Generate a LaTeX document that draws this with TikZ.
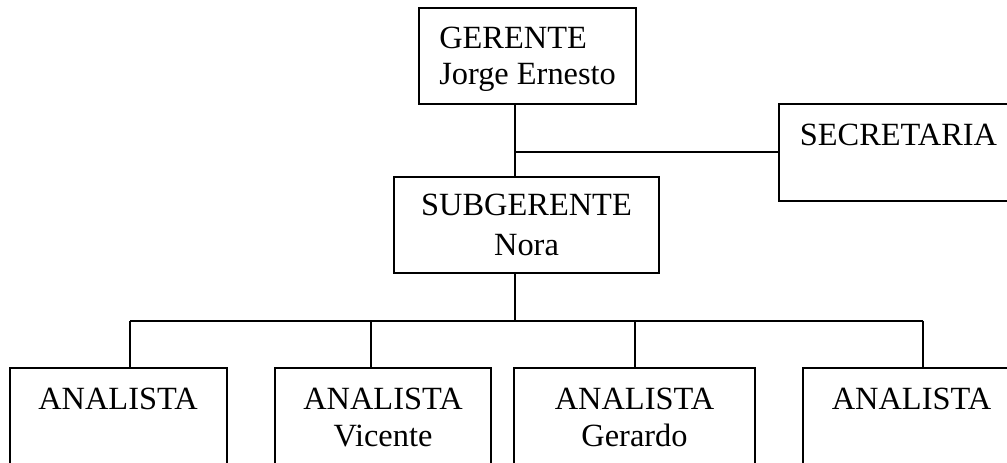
\documentclass[tikz,border=0pt]{standalone}
\usepackage{fontspec}
\setmainfont{Liberation Serif}
\usetikzlibrary{fit}
\tikzset{
  box/.style={draw=black, line width=1.4pt, inner sep=0pt, fill=none},
  txt/.style={inner sep=0pt, anchor=base, font=\fontsize{24.3}{29}\selectfont},
  txtl/.style={txt, anchor=base west},
  conn/.style={draw=black, line width=1.4pt}
}
\begin{document}
\begin{tikzpicture}[x=0.75pt, y=-0.75pt]
\useasboundingbox (0,0) rectangle (1007,462);
\clip (0,0) rectangle (1007,462);
\fill[white] (0,0) rectangle (1007,462);
% boxes
\node[box, fit={(419,8) (636,104)}] (ger) {};
\node[box, fit={(779,104) (1018,200.7)}] (sec) {};
\node[box, fit={(394,176.7) (659,272.7)}] (sub) {};
\node[box, fit={(10,368.3) (226.7,480)}] (a1) {};
\node[box, fit={(275,368.3) (491,480)}] (a2) {};
\node[box, fit={(514,368.3) (755,480)}] (a3) {};
\node[box, fit={(803,368.3) (1020,480)}] (a4) {};
% texts
\node[txtl] (gert) at (439,48.3) {GERENTE};
\node[txtl] (gern) at (439,84) {Jorge Ernesto};
\node[txt] (sect) at (898.5,145.7) {SECRETARIA};
\node[txt] (subt) at (526.5,215.5) {SUBGERENTE};
\node[txt] (subn) at (526.5,255) {Nora};
\node[txt] (a1t) at (118,409) {ANALISTA};
\node[txt] (a2t) at (383,409) {ANALISTA};
\node[txt] (a2n) at (383,446) {Vicente};
\node[txt] (a3t) at (634.5,409) {ANALISTA};
\node[txt] (a3n) at (634.5,446) {Gerardo};
\node[txt] (a4t) at (911.5,409) {ANALISTA};
% connector points
\coordinate (t1) at (515,152.35);
\coordinate (bus) at (515,320.7);
\coordinate (d1) at (130,320.7);
\coordinate (d2) at (371,320.7);
\coordinate (d3) at (635,320.7);
\coordinate (d4) at (923,320.7);
% connectors
\draw[conn] (ger.south -| t1) -- (sub.north -| t1);
\draw[conn] (t1) -- (sec.west);
\draw[conn] (sub.south -| bus) -- (bus);
\draw[conn] (d1) -- (d4);
\draw[conn] (d1) -- (d1 |- a1.north);
\draw[conn] (d2) -- (d2 |- a2.north);
\draw[conn] (d3) -- (d3 |- a3.north);
\draw[conn] (d4) -- (d4 |- a4.north);
\end{tikzpicture}
\end{document}
